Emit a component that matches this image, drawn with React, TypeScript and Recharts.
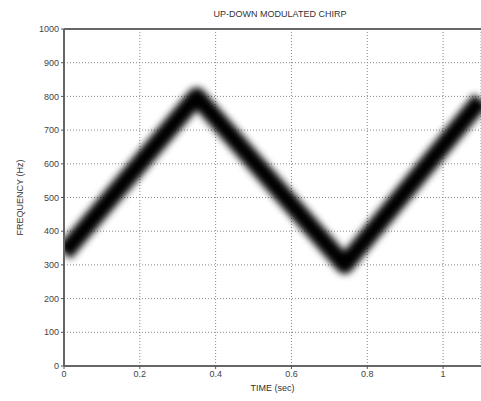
import {
  LineChart,
  Line,
  XAxis,
  YAxis,
  CartesianGrid,
  ReferenceLine,
} from 'recharts';

// chirp ridge: time (sec) vs frequency (Hz)
const times = [0, 0.35, 0.74, 1.1];
const freqs = [335, 800, 300, 790];
const xTicks = [0, 0.2, 0.4, 0.6, 0.8, 1];
const yTicks = [0, 100, 200, 300, 400, 500, 600, 700, 800, 900, 1000];

const data = times.map((t, i) => ({ t, f: freqs[i] }));

const font = 'Arial, "Liberation Sans", sans-serif';
const tickStyle = { fill: '#444', fontSize: 9, fontFamily: font };

export default function App() {
  return (
    <div style={{ position: 'absolute', left: 0, top: 0, width: 481, height: 401, background: '#fff' }}>
      <LineChart
        width={481}
        height={401}
        data={data}
        margin={{ top: 29, right: 0, left: 0, bottom: 0 }}
      >
        <defs>
          <filter id="smear" x="-20%" y="-20%" width="140%" height="140%">
            <feGaussianBlur stdDeviation="3.5" />
          </filter>
        </defs>
        <text x={280} y={17} textAnchor="middle" fontSize={9} fontFamily={font} fill="#333">
          UP-DOWN MODULATED CHIRP
        </text>
        <CartesianGrid stroke="#888" strokeDasharray="1 2" />
        <XAxis
          dataKey="t"
          type="number"
          domain={[0, 1.1]}
          ticks={xTicks}
          allowDataOverflow
          height={35}
          tick={tickStyle}
          tickLine={{ stroke: '#555' }}
          tickSize={3}
          axisLine={{ stroke: '#666', strokeWidth: 2 }}
          label={{ value: 'TIME (sec)', position: 'insideBottom', offset: 10, fill: '#333', fontSize: 9, fontFamily: font }}
        />
        <YAxis
          type="number"
          domain={[0, 1000]}
          ticks={yTicks}
          width={64}
          tick={tickStyle}
          tickLine={{ stroke: '#555' }}
          tickSize={3}
          axisLine={{ stroke: '#666', strokeWidth: 2 }}
          label={{ value: 'FREQUENCY (Hz)', angle: -90, position: 'insideLeft', offset: 20, fill: '#333', fontSize: 9, fontFamily: font, style: { textAnchor: 'middle' } }}
        />
        <ReferenceLine y={1000} stroke="#666" strokeWidth={2} />
        <Line
          dataKey="f"
          type="linear"
          stroke="#000"
          strokeWidth={18}
          strokeLinejoin="round"
          dot={false}
          filter="url(#smear)"
          isAnimationActive={false}
        />
      </LineChart>
    </div>
  );
}
